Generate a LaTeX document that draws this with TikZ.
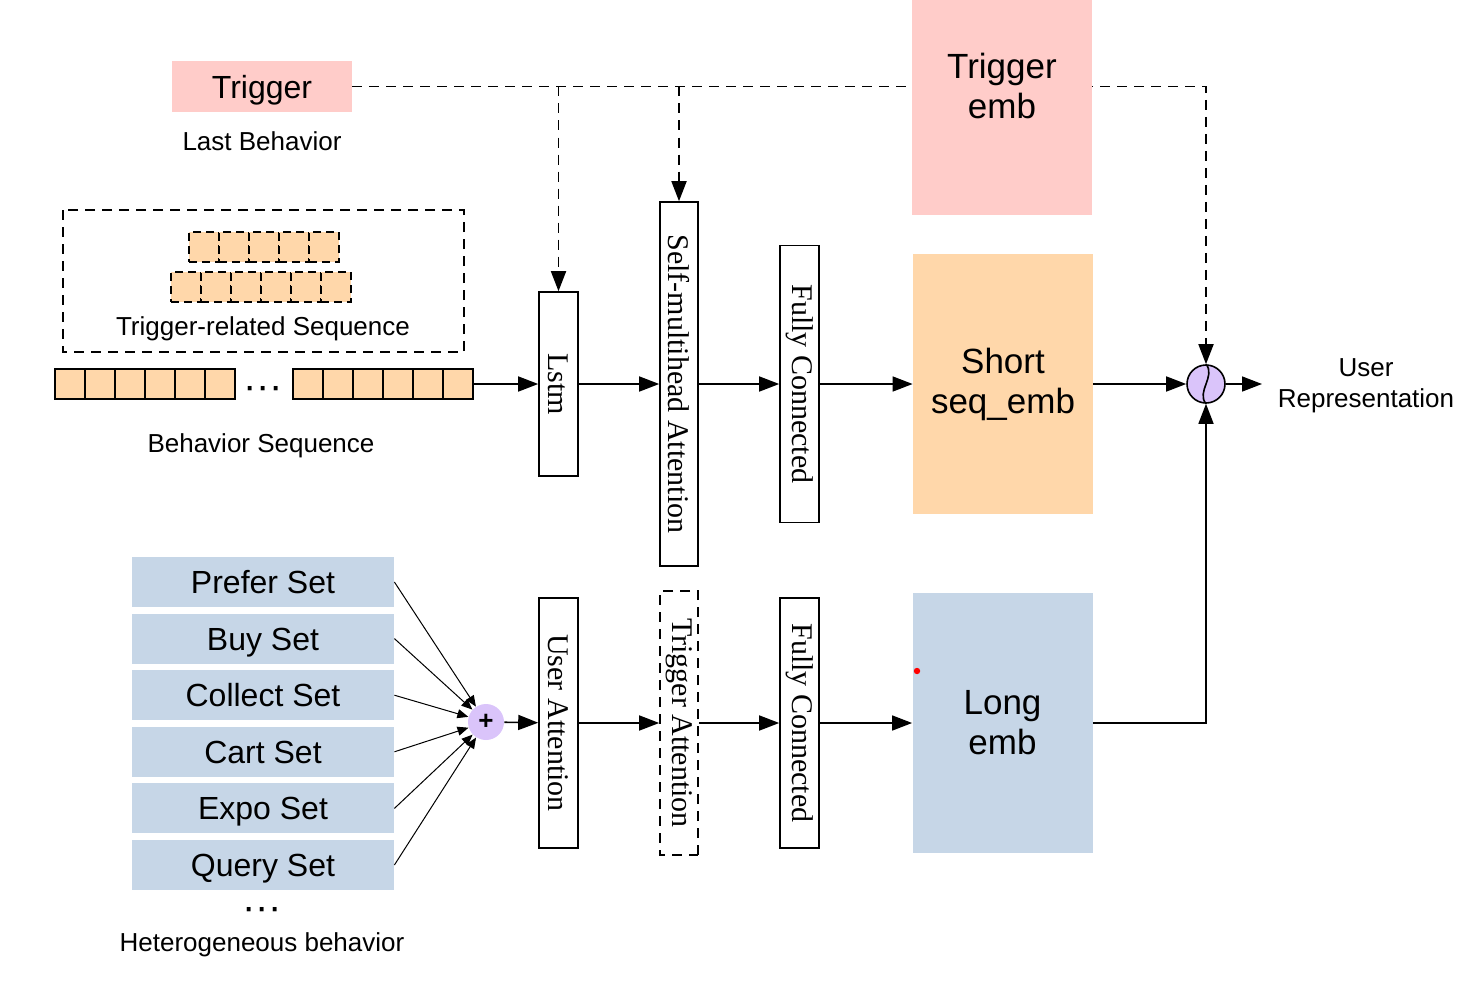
\documentclass[tikz,border=0pt]{standalone}
\usepackage{fontspec}
\setmainfont{Liberation Sans}
\newfontfamily\timesrm{Liberation Serif}
\usetikzlibrary{arrows.meta,backgrounds}
\definecolor{trigpink}{RGB}{255,204,201}
\definecolor{seqorange}{RGB}{255,215,170}
\definecolor{setblue}{RGB}{198,214,231}
\definecolor{mixpurple}{RGB}{218,196,250}
\tikzset{
  blockv/.style={draw, line width=0.8pt, rotate=-90, inner sep=0pt,
    font=\timesrm\fontsize{15}{18}\selectfont},
  embbox/.style={align=center, inner sep=0pt, minimum width=90pt,
    font=\fontsize{17.5}{20}\selectfont},
  setbox/.style={fill=setblue, minimum width=131pt, minimum height=25pt,
    inner sep=0pt, text height=11.5pt, text depth=0pt, font=\fontsize{16}{19}\selectfont},
  cell/.style={draw, line width=0.8pt, fill=seqorange, minimum size=15pt, inner sep=0pt},
  dashcell/.style={cell, line width=0.9pt, dash pattern=on 4pt off 2.5pt},
  caption/.style={font=\fontsize{13}{15.5}\selectfont, align=center},
  dotrow/.style={font=\fontsize{20}{20}\selectfont, anchor=base, inner sep=0pt},
  flow/.style={->, line width=0.8pt},
  setflow/.style={-{Triangle[length=5.5pt,width=4.5pt]}, line width=0.5pt},
  trigflow/.style={flow, line width=0.9pt, dash pattern=on 5pt off 3.5pt},
}
\begin{document}
\begin{tikzpicture}[x=0.5pt,y=-0.5pt,>={Triangle[length=10pt,width=7.5pt]}]
\useasboundingbox (0,0) rectangle (1482,995);

% inputs
\node[fill=trigpink, minimum width=90pt, minimum height=25.5pt, inner sep=0pt,
  text height=11.5pt, text depth=0pt, font=\fontsize{16}{19}\selectfont] (trig) at (262,86.5) {Trigger};
\node[caption] (lastb) at (262,141) {Last Behavior};

\draw[dash pattern=on 5pt off 3.5pt, line width=0.8pt] (63,210) rectangle (464,352);
\foreach \i in {0,...,4} \node[dashcell] (tA\i) at (204+30*\i,247) {};
\foreach \i in {0,...,5} \node[dashcell] (tB\i) at (186+30*\i,287) {};
\node[caption] (trseq) at (263,329) {Trigger-related Sequence};

\foreach \i in {0,...,5} {
  \node[cell] (bL\i) at (70+30*\i,384) {};
  \node[cell] (bR\i) at (308+30*\i,384) {};
}
\node[dotrow] (bdots) at (263,399) {···};
\node[caption] (bseq) at (261,446) {Behavior Sequence};

% heterogeneous sets
\foreach \name/\txt [count=\k from 0] in {prefer/Prefer Set, buy/Buy Set,
    collect/Collect Set, cart/Cart Set, expo/Expo Set, query/Query Set}
  \node[setbox] (\name) at (263,582+56.6*\k) {\txt};
\node[dotrow] (hdots) at (262,920) {···};
\node[caption] (hbeh) at (262,945) {Heterogeneous behavior};

\node[circle, fill=mixpurple, minimum size=18pt, inner sep=0pt,
  font=\bfseries\fontsize{13}{15}\selectfont] (plus) at (486,722) {+};
\foreach \name in {prefer,buy,collect,cart,expo,query}
  \draw[setflow] (\name.east) -- (plus);

% blocks
\node[blockv, minimum width=92pt, minimum height=19.5pt] (lstm) at (558.5,384) {Lstm};
\node[blockv, minimum width=182pt, minimum height=19pt] (sma) at (679,384) {Self-multihead Attention};
\node[blockv, minimum width=138.5pt, minimum height=19.5pt] (fcA) at (799.5,384) {Fully Connected};
\node[blockv, minimum width=125pt, minimum height=19.5pt] (uatt) at (558.5,723) {User Attention};
\node[blockv, dash pattern=on 5pt off 3.5pt, minimum width=132pt, minimum height=19pt] (tatt) at (679,723) {Trigger Attention};
\node[blockv, minimum width=125pt, minimum height=19.5pt] (fcB) at (799.5,723) {Fully Connected};

% embeddings
\node[embbox, fill=trigpink, minimum height=129pt] (temb) at (1002,86) {Trigger\\emb};
\node[embbox, fill=seqorange, minimum height=130pt] (semb) at (1003,384) {Short\\seq\_emb};
\node[embbox, fill=setblue, minimum height=130pt] (lemb) at (1002.5,723) {Long\\emb};
\fill[red] (917,671) circle (1.6pt);

% combiner
\node[circle, draw, line width=0.8pt, fill=mixpurple, minimum size=19pt, inner sep=0pt] (comb) at (1206,384) {};
\draw[line width=0.8pt] (comb.north) .. controls +(5pt,-6pt) and +(-5pt,6pt) .. (comb.south);
\coordinate (uout) at (1262,384);
\node[caption] (urep) at (1366,386) {User\\Representation};

% connectors
\begin{scope}[on background layer]
\draw[trigflow] (trig) -| (comb);
\end{scope}
\draw[trigflow] (lstm |- trig) -- (lstm);
\draw[trigflow] (sma |- trig) -- (sma);

\draw[flow] (bR5) -- (lstm);
\draw[flow] (lstm) -- (sma);
\draw[flow] (sma) -- (fcA);
\draw[flow] (fcA) -- (semb);
\draw[flow] (semb) -- (comb);
\draw[flow] (comb) -- (uout);

\draw[flow] (plus) -- (uatt);
\draw[flow] (uatt) -- (tatt);
\draw[flow] (tatt) -- (fcB);
\draw[flow] (fcB) -- (lemb);
\draw[flow] (lemb) -| (comb);
\end{tikzpicture}
\end{document}
